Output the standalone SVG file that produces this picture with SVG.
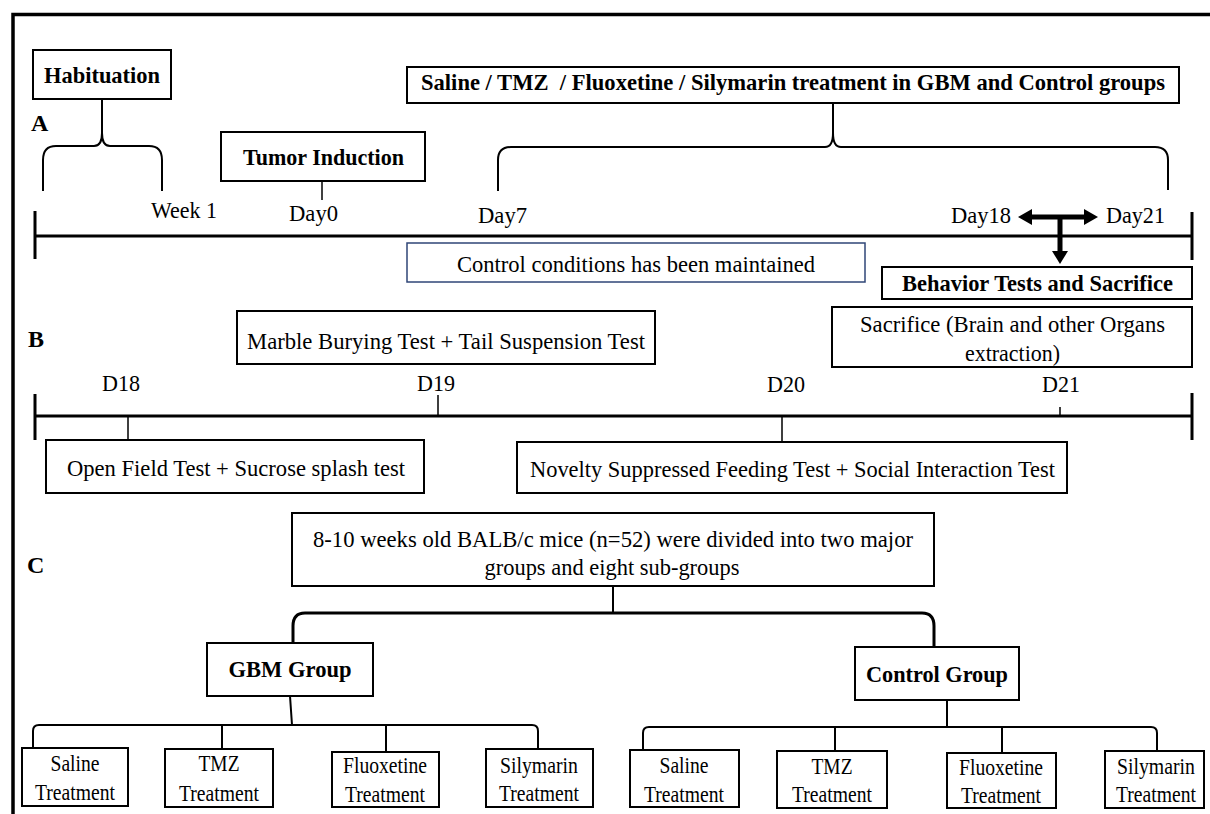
<svg xmlns="http://www.w3.org/2000/svg" width="1210" height="814" viewBox="0 0 1210 814">
<style>
.bx{fill:#fff;stroke:#000;stroke-width:2}
.t{font-family:"Liberation Serif","Times New Roman",serif;font-size:24px;fill:#000}
.s{font-size:23px}
.tb{font-family:"Liberation Serif","Times New Roman",serif;font-size:24px;font-weight:bold;fill:#000}
.m{text-anchor:middle}
.ln{fill:none;stroke:#000;stroke-width:2}
.tl{fill:none;stroke:#000;stroke-width:3}
.tk{fill:none;stroke:#000;stroke-width:1.5}
.ah{fill:#000}
</style>
<rect x="0" y="0" width="1210" height="814" fill="#fff"/>
<path d="M13,814 V14.5 H1212" fill="none" stroke="#000" stroke-width="3.5"/>

<g id="connectors">
  <!-- Panel A -->
  <path class="tl" d="M35,236 H1192 M35,211 V259 M1192,212 V260"/>
  <path class="ln" d="M43,191 V160 Q43,146 56,146 H94 Q102,146 102,133 V99 M162,191 V160 Q162,146 149,146 H110 Q102,146 102,133"/>
  <path class="ln" d="M498,191 V160 Q498,147 511,147 H825 Q833,147 833,133 V103 M1168,190 V160 Q1168,147 1155,147 H841 Q833,147 833,133"/>
  <path class="tk" d="M322,181 V200"/>
  <path d="M1028,217 H1088 M1060,217 V253" fill="none" stroke="#000" stroke-width="5"/>
  <polygon class="ah" points="1018,217 1032,209 1032,225"/>
  <polygon class="ah" points="1098,217 1084,209 1084,225"/>
  <polygon class="ah" points="1060,264 1052,251 1068,251"/>
  <!-- Panel B -->
  <path class="tl" d="M35,416 H1192 M35,394 V440 M1192,393 V440"/>
  <path class="tk" d="M128,416 V440 M438,395 V416 M782,416 V442 M1060,407 V416"/>
  <!-- Panel C -->
  <path class="ln" d="M613,586 V613"/>
  <path class="tl" d="M293,643 V626 Q293,613 305,613 H922 Q934,613 934,626 V647"/>
  <path class="ln" d="M290,696 L292,725 M33,748 V731 Q33,725 39,725 H532 Q538,725 538,731 V749 M222,725 V749 M386,725 V752"/>
  <path class="ln" d="M947,700 V727 M643,750 V733 Q643,727 649,727 H1151 Q1157,727 1157,733 V751 M835,727 V751 M1002,727 V753"/>
</g>

<g id="label-A"><text class="tb" x="31" y="131" font-size="22">A</text></g>
<g id="label-B"><text class="tb" x="28" y="347" font-size="22">B</text></g>
<g id="label-C"><text class="tb" x="27" y="573" font-size="22">C</text></g>

<g id="habituation">
  <rect class="bx" x="33" y="50" width="138" height="49"/>
  <text class="tb" x="44" y="83" textLength="116" lengthAdjust="spacingAndGlyphs">Habituation</text>
</g>
<g id="treatment">
  <rect class="bx" x="407" y="67" width="772" height="36"/>
  <text class="tb" x="421" y="90" textLength="744" lengthAdjust="spacingAndGlyphs" xml:space="preserve">Saline / TMZ  / Fluoxetine / Silymarin treatment in GBM and Control groups</text>
</g>
<g id="tumor-induction">
  <rect class="bx" x="221" y="132" width="204" height="49"/>
  <text class="tb" x="243" y="165" textLength="161" lengthAdjust="spacingAndGlyphs">Tumor Induction</text>
</g>
<g id="time-labels-A">
  <text class="t" x="151" y="218" textLength="66" lengthAdjust="spacingAndGlyphs">Week 1</text>
  <text class="t" x="289" y="221" textLength="49" lengthAdjust="spacingAndGlyphs">Day0</text>
  <text class="t" x="478" y="223" textLength="49" lengthAdjust="spacingAndGlyphs">Day7</text>
  <text class="t" x="951" y="223" textLength="60" lengthAdjust="spacingAndGlyphs">Day18</text>
  <text class="t" x="1106" y="223" textLength="59" lengthAdjust="spacingAndGlyphs">Day21</text>
</g>
<g id="control-conditions">
  <rect x="407" y="243" width="458" height="39" fill="#fff" stroke="#2F4677" stroke-width="1.5"/>
  <text class="t" x="457" y="272" textLength="358" lengthAdjust="spacingAndGlyphs">Control conditions has been maintained</text>
</g>
<g id="behavior-tests">
  <rect class="bx" x="882" y="267" width="310" height="32"/>
  <text class="tb" x="902" y="291" textLength="271" lengthAdjust="spacingAndGlyphs">Behavior Tests and Sacrifice</text>
</g>
<g id="sacrifice">
  <rect class="bx" x="832" y="307" width="360" height="60"/>
  <text class="t" x="860" y="332" textLength="305" lengthAdjust="spacingAndGlyphs">Sacrifice (Brain and other Organs</text>
  <text class="t" x="965" y="361" textLength="95" lengthAdjust="spacingAndGlyphs">extraction)</text>
</g>
<g id="marble-burying">
  <rect class="bx" x="237" y="311" width="418" height="53"/>
  <text class="t" x="247" y="349" textLength="398" lengthAdjust="spacingAndGlyphs">Marble Burying Test + Tail Suspension Test</text>
</g>
<g id="time-labels-B">
  <text class="t m" x="121" y="391" textLength="38" lengthAdjust="spacingAndGlyphs">D18</text>
  <text class="t m" x="436" y="391" textLength="38" lengthAdjust="spacingAndGlyphs">D19</text>
  <text class="t m" x="786" y="392" textLength="38" lengthAdjust="spacingAndGlyphs">D20</text>
  <text class="t m" x="1061" y="392" textLength="38" lengthAdjust="spacingAndGlyphs">D21</text>
</g>
<g id="open-field">
  <rect class="bx" x="46" y="440" width="378" height="53"/>
  <text class="t" x="67" y="476" textLength="338" lengthAdjust="spacingAndGlyphs">Open Field Test + Sucrose splash test</text>
</g>
<g id="novelty">
  <rect class="bx" x="517" y="442" width="550" height="51"/>
  <text class="t" x="530" y="477" textLength="525" lengthAdjust="spacingAndGlyphs">Novelty Suppressed Feeding Test + Social Interaction Test</text>
</g>
<g id="mice">
  <rect class="bx" x="292" y="513" width="642" height="73"/>
  <text class="t m" x="613" y="547" textLength="600" lengthAdjust="spacingAndGlyphs">8-10 weeks old BALB/c mice (n=52) were divided into two major</text>
  <text class="t m" x="612" y="575" textLength="255" lengthAdjust="spacingAndGlyphs">groups and eight sub-groups</text>
</g>
<g id="gbm-group">
  <rect class="bx" x="207" y="643" width="166" height="53" stroke-width="2.5"/>
  <text class="tb m" x="290" y="677" textLength="123" lengthAdjust="spacingAndGlyphs">GBM Group</text>
</g>
<g id="control-group">
  <rect class="bx" x="855" y="647" width="164" height="53" stroke-width="2.5"/>
  <text class="tb m" x="937" y="682" textLength="142" lengthAdjust="spacingAndGlyphs">Control Group</text>
</g>

<g id="gbm-saline">
  <rect class="bx" x="22" y="748" width="106" height="58"/>
  <text class="t s m" x="75" y="771" textLength="49" lengthAdjust="spacingAndGlyphs">Saline</text>
  <text class="t s m" x="75" y="800" textLength="80" lengthAdjust="spacingAndGlyphs">Treatment</text>
</g>
<g id="gbm-tmz">
  <rect class="bx" x="165" y="749" width="108" height="58"/>
  <text class="t s m" x="219" y="771" textLength="41" lengthAdjust="spacingAndGlyphs">TMZ</text>
  <text class="t s m" x="219" y="801" textLength="80" lengthAdjust="spacingAndGlyphs">Treatment</text>
</g>
<g id="gbm-fluoxetine">
  <rect class="bx" x="332" y="752" width="107" height="55"/>
  <text class="t s m" x="385" y="773" textLength="84" lengthAdjust="spacingAndGlyphs">Fluoxetine</text>
  <text class="t s m" x="385" y="802" textLength="80" lengthAdjust="spacingAndGlyphs">Treatment</text>
</g>
<g id="gbm-silymarin">
  <rect class="bx" x="486" y="749" width="107" height="58"/>
  <text class="t s m" x="539" y="773" textLength="78" lengthAdjust="spacingAndGlyphs">Silymarin</text>
  <text class="t s m" x="539" y="801" textLength="80" lengthAdjust="spacingAndGlyphs">Treatment</text>
</g>
<g id="control-saline">
  <rect class="bx" x="630" y="750" width="109" height="57"/>
  <text class="t s m" x="684" y="773" textLength="49" lengthAdjust="spacingAndGlyphs">Saline</text>
  <text class="t s m" x="684" y="802" textLength="80" lengthAdjust="spacingAndGlyphs">Treatment</text>
</g>
<g id="control-tmz">
  <rect class="bx" x="777" y="751" width="110" height="57"/>
  <text class="t s m" x="832" y="774" textLength="41" lengthAdjust="spacingAndGlyphs">TMZ</text>
  <text class="t s m" x="832" y="802" textLength="80" lengthAdjust="spacingAndGlyphs">Treatment</text>
</g>
<g id="control-fluoxetine">
  <rect class="bx" x="947" y="753" width="109" height="55"/>
  <text class="t s m" x="1001" y="775" textLength="84" lengthAdjust="spacingAndGlyphs">Fluoxetine</text>
  <text class="t s m" x="1001" y="803" textLength="80" lengthAdjust="spacingAndGlyphs">Treatment</text>
</g>
<g id="control-silymarin">
  <rect class="bx" x="1105" y="751" width="99" height="57"/>
  <text class="t s m" x="1156" y="774" textLength="78" lengthAdjust="spacingAndGlyphs">Silymarin</text>
  <text class="t s m" x="1156" y="802" textLength="80" lengthAdjust="spacingAndGlyphs">Treatment</text>
</g>
</svg>
